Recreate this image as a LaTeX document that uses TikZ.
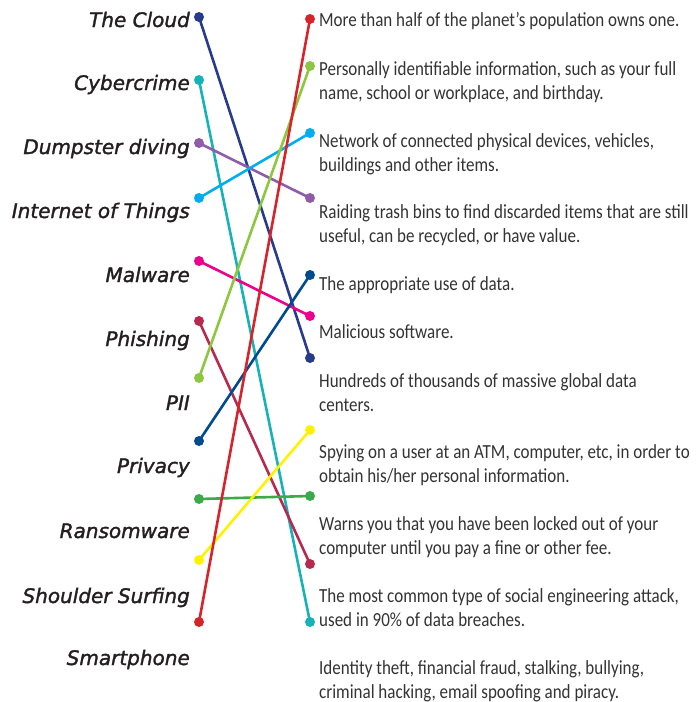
\documentclass[tikz,border=0pt]{standalone}
\usepackage{fontspec}
\newfontfamily\termfont[FakeBold=1.6]{DejaVu Sans}
\newfontfamily\descfont[FakeStretch=0.85]{Carlito}
\definecolor{cNavy}{HTML}{273A8C}
\definecolor{cTeal}{HTML}{17B2B8}
\definecolor{cPurple}{HTML}{8E5CA8}
\definecolor{cSky}{HTML}{00AEEF}
\definecolor{cMagenta}{HTML}{EC008C}
\definecolor{cCrimson}{HTML}{B72A50}
\definecolor{cLime}{HTML}{8DC63F}
\definecolor{cDeep}{HTML}{004B8D}
\definecolor{cGreen}{HTML}{3DAA4A}
\definecolor{cYellow}{HTML}{FFF200}
\definecolor{cRed}{HTML}{D7242B}
\definecolor{termcol}{HTML}{231F20}
\definecolor{desccol}{HTML}{333333}
\tikzset{
  term/.style={anchor=base east, inner sep=0pt, text=termcol,
    font=\termfont\itshape\fontsize{20}{24}\selectfont},
  desc/.style={anchor=base west, inner sep=0pt, text=desccol, align=left,
    font=\descfont\fontsize{20}{24}\selectfont},
  dot/.style={circle, inner sep=0pt, minimum size=10pt, draw=none},
  conn/.style={line width=2.6pt}
}
\begin{document}
\begin{tikzpicture}[x=1pt,y=-1pt]
\useasboundingbox (0,0) rectangle (697,702);
% terms
\node[term] (tCloud) at (190,27) {The Cloud};
\node[term] (tCyber) at (190,90) {Cybercrime};
\node[term] (tDump) at (190,154) {Dumpster diving};
\node[term] (tIoT) at (190,218) {Internet of Things};
\node[term] (tMal) at (190,282) {Malware};
\node[term] (tPhish) at (190,346) {Phishing};
\node[term] (tPII) at (190,410) {PII};
\node[term] (tPriv) at (190,473) {Privacy};
\node[term] (tRans) at (190,538) {Ransomware};
\node[term] (tShoul) at (190,603) {Shoulder Surfing};
\node[term] (tSmart) at (190,665) {Smartphone};
% descriptions (two-line nodes are placed by the baseline of their last line)
\node[desc] (d1) at (319,26) {More than half of the planet’s population owns one.};
\node[desc] (d2) at (319,99) {Personally identifiable information, such as your full\\name, school or workplace, and birthday.};
\node[desc] (d3) at (319,171) {Network of connected physical devices, vehicles,\\buildings and other items.};
\node[desc] (d4) at (319,242) {Raiding trash bins to find discarded items that are still\\useful, can be recycled, or have value.};
\node[desc] (d5) at (319,290) {The appropriate use of data.};
\node[desc] (d6) at (319,338) {Malicious software.};
\node[desc] (d7) at (319,411) {Hundreds of thousands of massive global data\\centers.};
\node[desc] (d8) at (319,482) {Spying on a user at an ATM, computer, etc, in order to\\obtain his/her personal information.};
\node[desc] (d9) at (319,554) {Warns you that you have been locked out of your\\computer until you pay a fine or other fee.};
\node[desc] (d10) at (319,626) {The most common type of social engineering attack,\\used in 90\% of data breaches.};
\node[desc] (d11) at (319,698) {Identity theft, financial fraud, stalking, bullying,\\criminal hacking, email spoofing and piracy.};
% left dots
\node[dot, fill=cNavy] (l1) at (199,17) {};
\node[dot, fill=cTeal] (l2) at (199,80) {};
\node[dot, fill=cPurple] (l3) at (199,143) {};
\node[dot, fill=cSky] (l4) at (199,198) {};
\node[dot, fill=cMagenta] (l5) at (199,261) {};
\node[dot, fill=cCrimson] (l6) at (199,321) {};
\node[dot, fill=cLime] (l7) at (199,378) {};
\node[dot, fill=cDeep] (l8) at (199,441) {};
\node[dot, fill=cGreen] (l9) at (199,499) {};
\node[dot, fill=cYellow] (l10) at (199,560) {};
\node[dot, fill=cRed] (l11) at (199,622) {};
% right dots
\node[dot, fill=cRed] (r1) at (310,19) {};
\node[dot, fill=cLime] (r2) at (310,66) {};
\node[dot, fill=cSky] (r3) at (310,133) {};
\node[dot, fill=cPurple] (r4) at (310,198) {};
\node[dot, fill=cDeep] (r5) at (310,275) {};
\node[dot, fill=cMagenta] (r6) at (310,316) {};
\node[dot, fill=cNavy] (r7) at (310,358) {};
\node[dot, fill=cYellow] (r8) at (310,430) {};
\node[dot, fill=cGreen] (r9) at (310,496) {};
\node[dot, fill=cCrimson] (r10) at (310,564) {};
\node[dot, fill=cTeal] (r11) at (310,622) {};
% connectors
\draw[conn, cNavy] (l1.center) -- (r7.center);
\draw[conn, cTeal] (l2.center) -- (r11.center);
\draw[conn, cPurple] (l3.center) -- (r4.center);
\draw[conn, cSky] (l4.center) -- (r3.center);
\draw[conn, cMagenta] (l5.center) -- (r6.center);
\draw[conn, cCrimson] (l6.center) -- (r10.center);
\draw[conn, cLime] (l7.center) -- (r2.center);
\draw[conn, cDeep] (l8.center) -- (r5.center);
\draw[conn, cGreen] (l9.center) -- (r9.center);
\draw[conn, cYellow] (l10.center) -- (r8.center);
\draw[conn, cRed] (l11.center) -- (r1.center);
\end{tikzpicture}
\end{document}
